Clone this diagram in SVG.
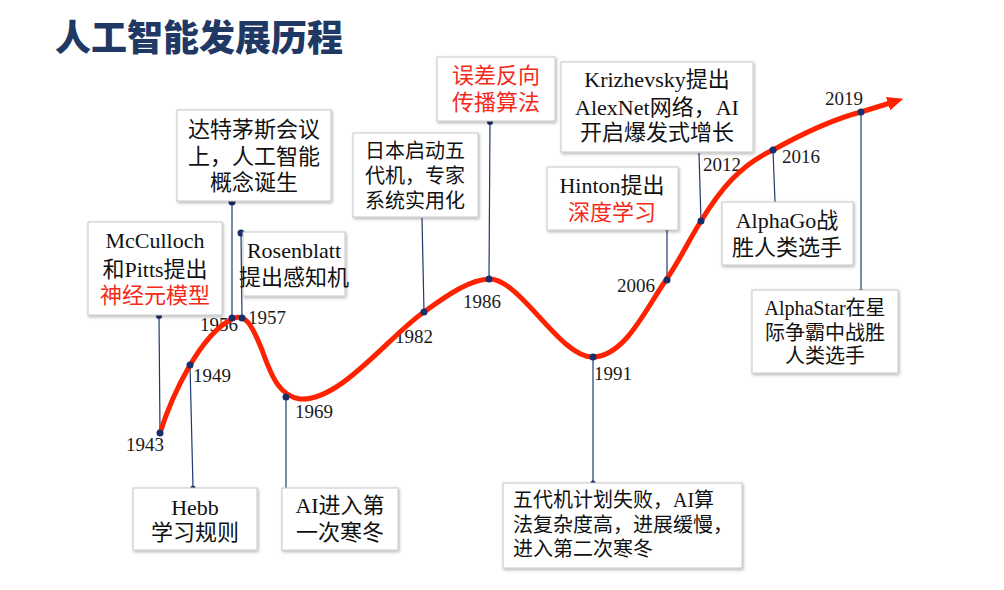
<svg xmlns="http://www.w3.org/2000/svg" width="1004" height="590" viewBox="0 0 1004 590">
<style>
.box{fill:#fff;stroke:#c8c8c8;stroke-width:1;filter:url(#sh)}
.t{font-family:"Noto Sans CJK SC","Liberation Serif",sans-serif;font-size:22px;fill:#111;text-anchor:middle}
.e{font-family:"Liberation Serif",serif}
.s20{font-size:20px}
.l{text-anchor:start}
.red{fill:#f52a1a}
.yr{font-family:"Liberation Serif",serif;font-size:19px;fill:#1a1a1a}
.con{stroke:#1f3a6e;stroke-width:1.2;fill:none}
.dot{fill:#1a2f6a}
.title{font-family:"Noto Sans CJK SC",sans-serif;font-weight:900;font-size:36px;fill:#1f3864}
</style>
<defs>
<filter id="sh" x="-10%" y="-10%" width="125%" height="130%">
<feDropShadow dx="1" dy="1.5" stdDeviation="1.5" flood-color="#000" flood-opacity="0.3"/>
</filter>
<marker id="arr" markerUnits="userSpaceOnUse" markerWidth="16" markerHeight="14" refX="2" refY="7" orient="auto" viewBox="0 0 16 14">
<path d="M0,0 L16,7 L0,14 z" fill="#ff2200"/>
</marker>
</defs>
<rect width="1004" height="590" fill="#fff"/>
<text class="title" x="55" y="51">人工智能发展历程</text>

<g id="connectors">
<line class="con" x1="159" y1="316" x2="160" y2="433"/>
<line class="con" x1="232" y1="202" x2="232" y2="318"/>
<line class="con" x1="241" y1="233" x2="242" y2="318"/>
<line class="con" x1="190" y1="365" x2="193" y2="488"/>
<line class="con" x1="286" y1="397" x2="286" y2="488"/>
<line class="con" x1="422" y1="218" x2="424" y2="312"/>
<line class="con" x1="490" y1="122" x2="489" y2="279"/>
<line class="con" x1="593" y1="357" x2="593" y2="483"/>
<line class="con" x1="667" y1="228" x2="667" y2="280"/>
<line class="con" x1="699" y1="153" x2="701" y2="221"/>
<line class="con" x1="773" y1="150" x2="775" y2="202"/>
<line class="con" x1="861" y1="112" x2="861" y2="292"/>
<circle class="dot" cx="159" cy="316" r="3"/>
<circle class="dot" cx="232" cy="202" r="3.5"/>
<circle class="dot" cx="241" cy="233" r="3.5"/>
<circle class="dot" cx="193" cy="488" r="2.5"/>
<circle class="dot" cx="490" cy="122" r="3"/>
<circle class="dot" cx="593" cy="483" r="2.5"/>
<circle class="dot" cx="667" cy="228" r="3"/>
<circle class="dot" cx="861" cy="292" r="3"/>
</g>

<g id="years">
<text class="yr" x="126" y="451">1943</text>
<text class="yr" x="193" y="382">1949</text>
<text class="yr" x="200" y="331">1956</text>
<text class="yr" x="248" y="324">1957</text>
<text class="yr" x="295" y="418">1969</text>
<text class="yr" x="395" y="343">1982</text>
<text class="yr" x="463" y="308">1986</text>
<text class="yr" x="594" y="380">1991</text>
<text class="yr" x="617" y="292">2006</text>
<text class="yr" x="703" y="171">2012</text>
<text class="yr" x="782" y="163">2016</text>
<text class="yr" x="825" y="105">2019</text>
</g>

<g id="timeline">
<path d="M160,433 C172,395 200,335 232,319 C245,312 252,325 262,350 C272,378 280,396 300,399 C340,402 390,335 424,312 C450,293 470,280 489,279 C520,278 560,358 593,357 C625,356 645,310 666,280 C680,260 690,238 701,221 C720,190 740,165 773,150 C800,135 830,120 861,112 L890,103" fill="none" stroke="#ff2200" stroke-width="5" stroke-linecap="round" marker-end="url(#arr)"/>
<circle class="dot" cx="160" cy="433" r="3.5"/>
<circle class="dot" cx="190" cy="365" r="3.5"/>
<circle class="dot" cx="232" cy="318" r="3.5"/>
<circle class="dot" cx="242" cy="318" r="3.5"/>
<circle class="dot" cx="286" cy="397" r="3.5"/>
<circle class="dot" cx="424" cy="312" r="3.5"/>
<circle class="dot" cx="489" cy="279" r="3.5"/>
<circle class="dot" cx="593" cy="357" r="3.5"/>
<circle class="dot" cx="667" cy="280" r="3.5"/>
<circle class="dot" cx="701" cy="221" r="3.5"/>
<circle class="dot" cx="773" cy="150" r="3.5"/>
<circle class="dot" cx="861" cy="112" r="3.5"/>
</g>

<g id="n1943">
<rect class="box" x="88" y="222" width="134" height="93"/>
<text class="t e" x="155" y="248">McCulloch</text>
<text class="t" x="155" y="277">和<tspan class="e">Pitts</tspan>提出</text>
<text class="t red" x="155" y="303">神经元模型</text>
</g>
<g id="n1956">
<rect class="box" x="177" y="110" width="154" height="91"/>
<text class="t" x="254" y="137">达特茅斯会议</text>
<text class="t" x="254" y="164">上，人工智能</text>
<text class="t" x="254" y="190">概念诞生</text>
</g>
<g id="n1957">
<rect class="box" x="243" y="232" width="102" height="64"/>
<text class="t e" x="294" y="258">Rosenblatt</text>
<text class="t" x="294" y="285">提出感知机</text>
</g>
<g id="n1949">
<rect class="box" x="133" y="488" width="124" height="62"/>
<text class="t e" x="195" y="515">Hebb</text>
<text class="t" x="195" y="540">学习规则</text>
</g>
<g id="n1969">
<rect class="box" x="282" y="488" width="116" height="62"/>
<text class="t" x="340" y="513"><tspan class="e">AI</tspan>进入第</text>
<text class="t" x="340" y="540">一次寒冬</text>
</g>
<g id="n1982">
<rect class="box" x="353" y="133" width="125" height="84"/>
<text class="t s20" x="415" y="158">日本启动五</text>
<text class="t s20" x="415" y="183">代机，专家</text>
<text class="t s20" x="415" y="208">系统实用化</text>
</g>
<g id="n1986">
<rect class="box" x="437" y="57" width="118" height="64"/>
<text class="t red" x="496" y="83">误差反向</text>
<text class="t red" x="496" y="110">传播算法</text>
</g>
<g id="n1991">
<rect class="box" x="503" y="483" width="239" height="85"/>
<text class="t s20 l" x="513" y="507">五代机计划失败，<tspan class="e">AI</tspan>算</text>
<text class="t s20 l" x="513" y="532">法复杂度高，进展缓慢，</text>
<text class="t s20 l" x="513" y="556">进入第二次寒冬</text>
</g>
<g id="n2006">
<rect class="box" x="547" y="167" width="131" height="63"/>
<text class="t" x="612" y="193"><tspan class="e">Hinton</tspan>提出</text>
<text class="t red" x="612" y="220">深度学习</text>
</g>
<g id="n2012">
<rect class="box" x="561" y="62" width="192" height="90"/>
<text class="t" x="657" y="87"><tspan class="e">Krizhevsky</tspan>提出</text>
<text class="t" x="657" y="115"><tspan class="e">AlexNet</tspan>网络，<tspan class="e">AI</tspan></text>
<text class="t" x="657" y="140">开启爆发式增长</text>
</g>
<g id="n2016">
<rect class="box" x="722" y="202" width="131" height="63"/>
<text class="t" x="787" y="228"><tspan class="e">AlphaGo</tspan>战</text>
<text class="t" x="787" y="255">胜人类选手</text>
</g>
<g id="n2019">
<rect class="box" x="752" y="290" width="146" height="83"/>
<text class="t s20" x="825" y="315"><tspan class="e">AlphaStar</tspan>在星</text>
<text class="t s20" x="825" y="340">际争霸中战胜</text>
<text class="t s20" x="825" y="363">人类选手</text>
</g>
</svg>
